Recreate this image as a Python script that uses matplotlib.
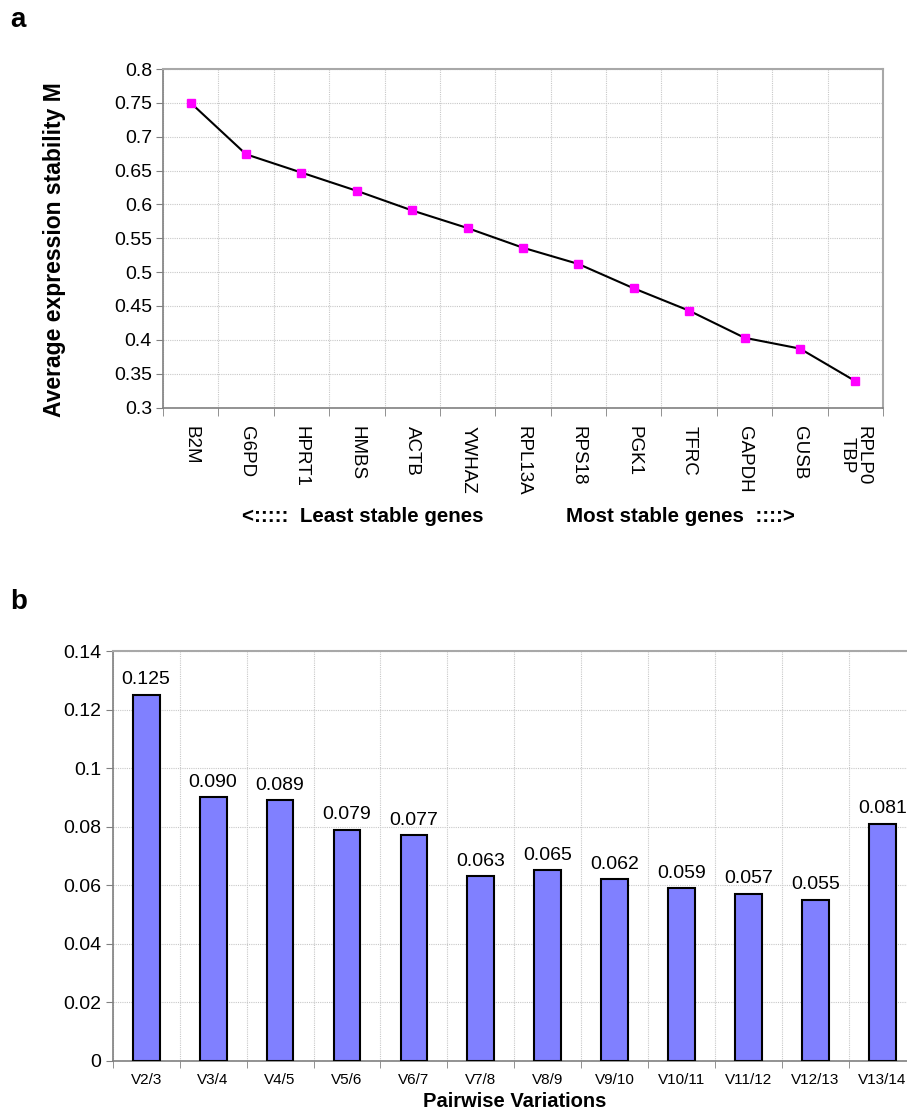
import matplotlib
matplotlib.use("Agg")
import matplotlib.pyplot as plt
import numpy as np

plt.rcParams['font.family'] = ['Liberation Sans', 'DejaVu Sans']

genes = ["B2M", "G6PD", "HPRT1", "HMBS", "ACTB", "YWHAZ", "RPL13A", "RPS18",
         "PGK1", "TFRC", "GAPDH", "GUSB", "RPLP0\nTBP"]
m_values = [0.750, 0.674, 0.647, 0.620, 0.591, 0.565, 0.536, 0.512,
            0.476, 0.443, 0.403, 0.387, 0.339]

pairs = ["V2/3", "V3/4", "V4/5", "V5/6", "V6/7", "V7/8", "V8/9", "V9/10",
         "V10/11", "V11/12", "V12/13", "V13/14"]
v_values = [0.125, 0.090, 0.089, 0.079, 0.077, 0.063, 0.065, 0.062,
            0.059, 0.057, 0.055, 0.081]

W, H = 907, 1115
fig = plt.figure(figsize=(W / 100, H / 100), dpi=100)

grid_kw = dict(color='#c8c8c8', linestyle=(0, (1, 1)), linewidth=0.8)

# ---------- panel a ----------
axa = fig.add_axes([163 / W, 1 - 407.5 / H, (883 - 163) / W, (407.5 - 69) / H])
xa = np.arange(len(genes))
axa.plot(xa, m_values, color='black', linewidth=1.5, zorder=3)
axa.plot(xa, m_values, linestyle='none', marker='s', markersize=6,
         markerfacecolor='#ff00ff', markeredgecolor='#ff00ff', zorder=4)
axa.set_xlim(-0.5, len(genes) - 0.5)
axa.set_ylim(0.3, 0.8)
axa.set_yticks(np.arange(0.3, 0.801, 0.05))
axa.set_yticklabels(["0.3", "0.35", "0.4", "0.45", "0.5", "0.55", "0.6",
                     "0.65", "0.7", "0.75", "0.8"], fontsize=14)
axa.set_xticks(xa)
axa.set_xticklabels(genes, rotation=270, fontsize=13.5, va='top', ha='center',
                    linespacing=0.9)
axa.set_xticks(np.arange(-0.5, len(genes)), minor=True)
axa.tick_params(axis='x', which='major', length=0, pad=13)
axa.tick_params(axis='x', which='minor', length=6, color='#808080', direction='out')
axa.tick_params(axis='y', length=5, color='#808080', direction='out', pad=3)
axa.grid(True, axis='y', which='major', **grid_kw)
axa.grid(True, axis='x', which='minor', **grid_kw)
axa.set_axisbelow(True)
for s in ['left', 'bottom']:
    axa.spines[s].set_color('#808080')
    axa.spines[s].set_linewidth(1.2)
for s in ['top', 'right']:
    axa.spines[s].set_color('#a8a8a8')
    axa.spines[s].set_linewidth(1.5)
axa.set_ylabel("Average expression stability M", fontsize=16.5,
               fontweight='bold')
axa.yaxis.set_label_coords((66 - 163) / 720, 0.467)
fig.text(242 / W, 1 - 517 / H, "<:::::  Least stable genes", fontsize=14.8,
         fontweight='bold', ha='left', va='center')
fig.text(566 / W, 1 - 517 / H, "Most stable genes  ::::>", fontsize=14.8,
         fontweight='bold', ha='left', va='center')
fig.text(10 / W, 1 - 20 / H, "a", fontsize=20, fontweight='bold',
         ha='left', va='center')

# ---------- panel b ----------
axb = fig.add_axes([112.7 / W, 1 - 1060.7 / H, (916 - 112.7) / W, (1060.7 - 651) / H])
xb = np.arange(len(pairs))
bars = axb.bar(xb, v_values, width=0.4, color='#8080ff', edgecolor='black',
               linewidth=1.5, zorder=3)
for xi, v in zip(xb, v_values):
    axb.text(xi, v + 0.0022, f"{v:.3f}", ha='center', va='bottom', fontsize=14)
axb.set_xlim(-0.5, len(pairs) - 0.5)
axb.set_ylim(0, 0.14)
axb.set_yticks(np.arange(0, 0.141, 0.02))
axb.set_yticklabels(["0", "0.02", "0.04", "0.06", "0.08", "0.1", "0.12", "0.14"],
                    fontsize=14)
axb.set_xticks(xb)
axb.set_xticklabels(pairs, fontsize=11)
axb.set_xticks(np.arange(-0.5, len(pairs)), minor=True)
axb.tick_params(axis='x', which='major', length=0, pad=9)
axb.tick_params(axis='x', which='minor', length=5, color='#808080', direction='out')
axb.tick_params(axis='y', length=5, color='#808080', direction='out', pad=3)
axb.grid(True, axis='y', which='major', **grid_kw)
axb.grid(True, axis='x', which='minor', **grid_kw)
axb.set_axisbelow(True)
for s in ['left', 'bottom']:
    axb.spines[s].set_color('#808080')
    axb.spines[s].set_linewidth(1.2)
axb.spines['top'].set_color('#a8a8a8')
axb.spines['top'].set_linewidth(1.5)
axb.spines['right'].set_visible(False)
axb.set_xlabel("Pairwise Variations", fontsize=14.5, fontweight='bold')
axb.xaxis.set_label_coords(0.5, -(1092 - 1060.7) / (1060.7 - 651))
fig.text(10 / W, 1 - 602 / H, "b", fontsize=20, fontweight='bold',
         ha='left', va='center')

fig.savefig("out.png", dpi=100)
